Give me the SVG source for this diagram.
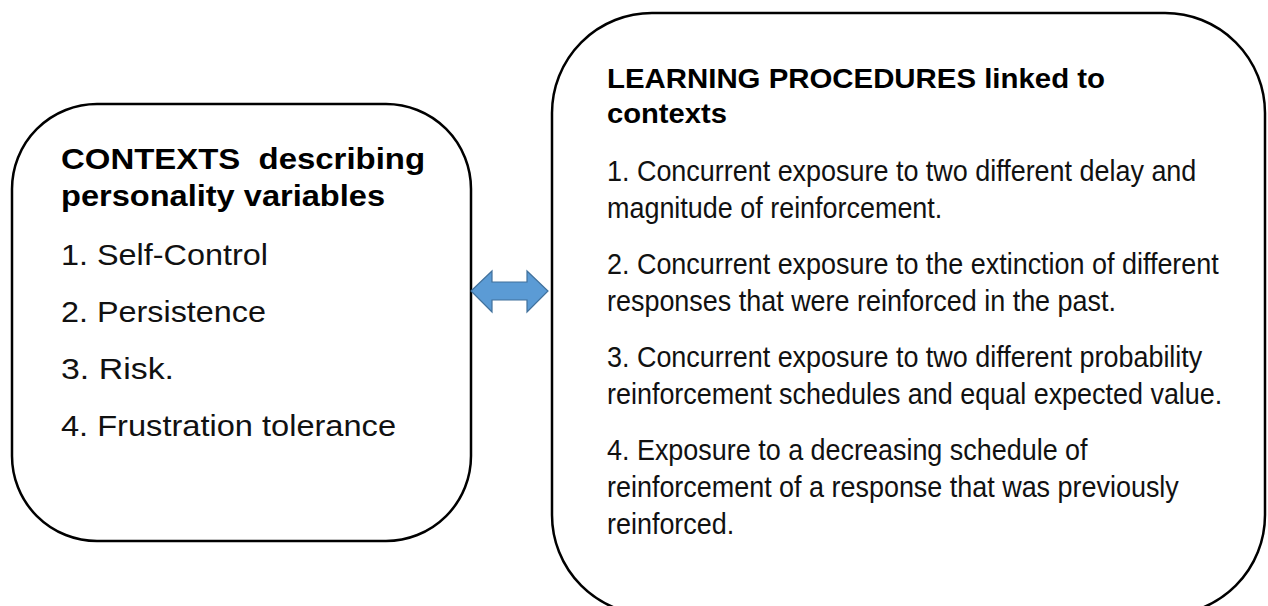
<svg xmlns="http://www.w3.org/2000/svg" width="1268" height="606" viewBox="0 0 1268 606">
  <style>
    .box { fill: #ffffff; stroke: #000000; stroke-width: 2.5; }
    .head { font-family: "Liberation Sans", Arial, sans-serif; font-weight: bold; fill: #000000; }
    .body { font-family: "Liberation Sans", Arial, sans-serif; fill: #111111; }
    .arrow { fill: #5b9bd5; stroke: #41719c; stroke-width: 1.2; }
  </style>
  <rect width="1268" height="606" fill="#ffffff"/>

  <!-- Left node: contexts -->
  <g id="contexts">
    <rect class="box" x="12" y="104" width="459" height="437" rx="85" ry="85"/>
    <text class="head" font-size="30" x="61" y="169" textLength="364" lengthAdjust="spacingAndGlyphs" xml:space="preserve">CONTEXTS  describing</text>
    <text class="head" font-size="30" x="61" y="206" textLength="324" lengthAdjust="spacingAndGlyphs">personality variables</text>
    <text class="body" font-size="30" x="61" y="265" textLength="207" lengthAdjust="spacingAndGlyphs">1. Self-Control</text>
    <text class="body" font-size="30" x="61" y="322" textLength="205" lengthAdjust="spacingAndGlyphs">2. Persistence</text>
    <text class="body" font-size="30" x="61" y="379" textLength="113" lengthAdjust="spacingAndGlyphs">3. Risk.</text>
    <text class="body" font-size="30" x="61" y="436" textLength="335" lengthAdjust="spacingAndGlyphs">4. Frustration tolerance</text>
  </g>

  <!-- Right node: learning procedures -->
  <g id="procedures">
    <rect class="box" x="552" y="13" width="713" height="602" rx="100" ry="100"/>
    <text class="head" font-size="28" x="607" y="88" textLength="498" lengthAdjust="spacingAndGlyphs">LEARNING PROCEDURES linked to</text>
    <text class="head" font-size="28" x="607" y="123" textLength="120" lengthAdjust="spacingAndGlyphs">contexts</text>
    <!-- list set in a horizontally condensed face -->
    <g transform="matrix(0.898 0 0 1 607 0)">
      <text class="body" font-size="30" x="0" y="181">1. Concurrent exposure to two different delay and</text>
      <text class="body" font-size="30" x="0" y="218">magnitude of reinforcement.</text>
      <text class="body" font-size="30" x="0" y="274">2. Concurrent exposure to the extinction of different</text>
      <text class="body" font-size="30" x="0" y="311">responses that were reinforced in the past.</text>
      <text class="body" font-size="30" x="0" y="367">3. Concurrent exposure to two different probability</text>
      <text class="body" font-size="30" x="0" y="404">reinforcement schedules and equal expected value.</text>
      <text class="body" font-size="30" x="0" y="460">4. Exposure to a decreasing schedule of</text>
      <text class="body" font-size="30" x="0" y="497">reinforcement of a response that was previously</text>
      <text class="body" font-size="30" x="0" y="534">reinforced.</text>
    </g>
  </g>

  <!-- Connector: double-headed block arrow -->
  <g id="connectors">
    <path class="arrow" d="M471,291 L492,271 L492,282 L527,282 L527,271 L548,291 L527,312 L527,300 L492,300 L492,312 Z"/>
  </g>
</svg>
